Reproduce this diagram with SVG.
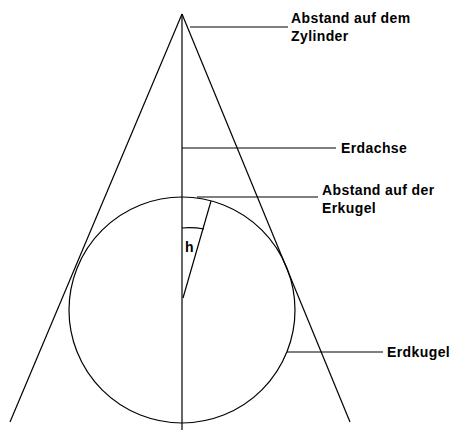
<svg xmlns="http://www.w3.org/2000/svg" width="457" height="430" viewBox="0 0 457 430">
<style>
.ln{stroke:#000;stroke-width:1.2;fill:none}
.lb{font-family:"Liberation Sans",Arial,sans-serif;font-weight:bold;font-size:14px;letter-spacing:0.4px;fill:#000}
</style>
<rect width="457" height="430" fill="#fff"/>
<g id="cone">
<line class="ln" x1="182" y1="14" x2="10" y2="422"/>
<line class="ln" x1="182" y1="14" x2="350" y2="422"/>
</g>
<g id="axis"><line class="ln" x1="182" y1="14" x2="182" y2="430"/></g>
<g id="sphere"><circle class="ln" cx="182" cy="310" r="113"/></g>
<g id="angle">
<line class="ln" x1="183" y1="298" x2="211" y2="201"/>
<path class="ln" d="M182,228 Q193,227 204,229"/>
<text class="lb" x="185" y="252">h</text>
</g>
<g id="connectors">
<line class="ln" x1="190" y1="27" x2="288" y2="27"/>
<line class="ln" x1="182" y1="148" x2="336" y2="148"/>
<line class="ln" x1="197" y1="197" x2="318" y2="197"/>
<line class="ln" x1="287" y1="352" x2="383" y2="352"/>
</g>
<g id="label-zylinder"><text class="lb" x="291" y="23">Abstand auf dem</text><text class="lb" x="291" y="41">Zylinder</text></g>
<g id="label-erdachse"><text class="lb" x="341" y="153">Erdachse</text></g>
<g id="label-erkugel"><text class="lb" x="322" y="195">Abstand auf der</text><text class="lb" x="322" y="213">Erkugel</text></g>
<g id="label-erdkugel"><text class="lb" x="387" y="357">Erdkugel</text></g>
</svg>
